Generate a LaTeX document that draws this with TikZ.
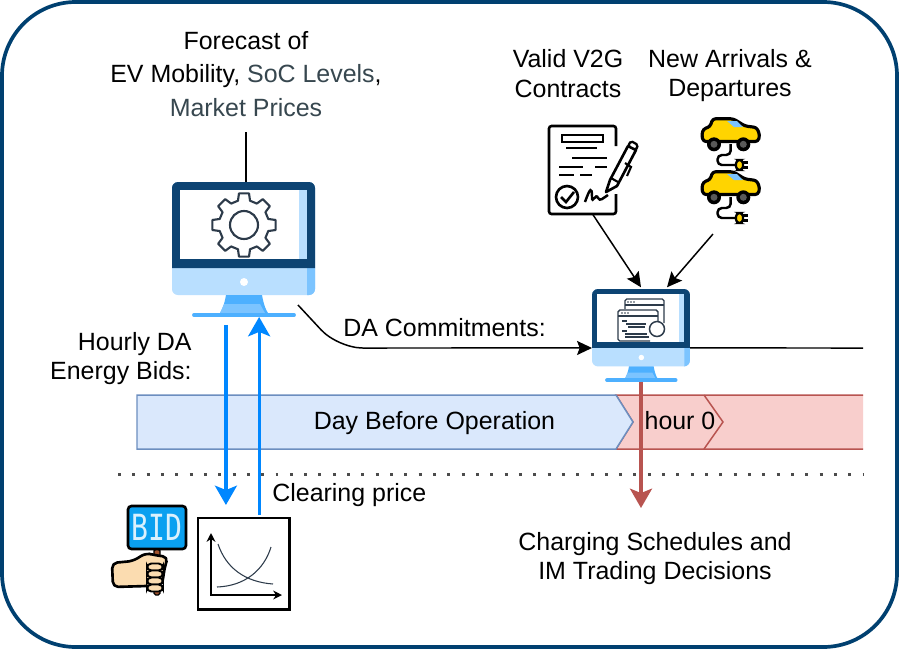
\documentclass[tikz,border=0pt]{standalone}
\usepackage{fontspec}
\setmainfont{Liberation Sans}
\newfontfamily\monofont{DejaVu Sans Mono}
\usetikzlibrary{arrows.meta,positioning,calc}

\definecolor{frameblue}{HTML}{004070}
\definecolor{screendark}{HTML}{0D4473}
\definecolor{screenlight}{HTML}{B9DFFF}
\definecolor{screenmid}{HTML}{7CC4FF}
\definecolor{standblue}{HTML}{4DB0FF}
\definecolor{iconink}{HTML}{2D3B4A}
\definecolor{slatetext}{HTML}{37474F}
\definecolor{bidblue}{HTML}{0087FF}
\definecolor{signblue}{HTML}{0AA0F0}
\definecolor{dayblue}{HTML}{DAE8FC}
\definecolor{dayline}{HTML}{6C8EBF}
\definecolor{hourred}{HTML}{F8CECC}
\definecolor{hourline}{HTML}{B85450}
\definecolor{caryellow}{HTML}{FFD400}
\definecolor{skinTone}{HTML}{FBDCB0}
\definecolor{stickbrown}{HTML}{A0522D}

\tikzset{
	label/.style={font=\fontsize{14.2}{17}\selectfont, align=center, inner sep=0pt},
	iconbox/.style={inner sep=0pt, outer sep=0pt},
	wire/.style={black, line width=0.85pt},
	wirearrow/.style={wire, -{Stealth[length=8.5pt,width=8pt,inset=1.5pt]}},
	bigtip/.style={-{Stealth[length=11pt,width=12.5pt,inset=2.5pt]}},
	bidarrow/.style={bidblue, line width=1.8pt, bigtip},
	monitor/.pic={
		\fill[screenlight, rounded corners=3.4pt] (0,0) rectangle (143,113);
		\fill[screenmid] (135,86) -- (143,86) [rounded corners=3.4pt] -- (143,113) [sharp corners] -- (135,113) -- cycle;
		\fill[screendark] (0,86) [rounded corners=3.4pt] -- (0,0) -- (143,0) [sharp corners] -- (143,86) -- cycle;
		\fill[white] (8,8) rectangle (135,77);
		\fill[screenlight] (127,8) rectangle (135,77);
		\fill[white] (72,100) circle (4);
		\fill[standblue] (54,113) -- (90,113) .. controls (92,124) and (94,128) .. (96,131) -- (48,131) .. controls (50,128) and (52,124) .. (54,113) -- cycle;
		\fill[screenmid] (52,122) -- (88,122) -- (93,131) -- (48,131) -- cycle;
		\draw[standblue, line width=2.2pt, line cap=round] (22,133) -- (122,133);
	},
	evcar/.pic={
		% cable and plug
		\draw[black, line width=1.4pt, rounded corners=2.5pt] (29.7,26) -- (29.7,37) -- (16.5,37) -- (16.5,47) -- (36,47);
		\draw[black, line width=1.2pt] (40,44.5) -- (47,44.5) (40,49.5) -- (47,49.5);
		\draw[black, fill=caryellow, line width=1.3pt, rounded corners=2pt] (35,42) rectangle (42,52);
		% body
		\draw[black, fill=caryellow, line width=1.8pt, line join=round, rounded corners=1.6pt] (2.3,23.5) -- (0.7,17) -- (2.3,11) -- (9,8.7) -- (11.7,0.8) -- (32.3,0.8) -- (44,8) -- (55.7,9.5) -- (58.8,17) -- (57,23.5) -- cycle;
		\fill[screenmid] (26,3) -- (36,3) -- (42,9) -- (33,9) -- cycle;
		\fill[black] (13,26.3) circle (7) (42.3,26.3) circle (7);
		\fill[black!65] (13,26.3) circle (3.5) (42.3,26.3) circle (3.5);
	}
}

\begin{document}
\begin{tikzpicture}[x=0.02cm, y=-0.02cm]
	\useasboundingbox (0,0) rectangle (900,650);
	\fill[white] (0,0) rectangle (900,650);
	% Frame
	\draw[frameblue, line width=2.1pt, rounded corners=42pt] (2,2) rectangle (897,647);

	% Timeline
	\draw[hourline, fill=hourred, line width=0.85pt] (863,395) -- (616,395) -- (633,422) -- (616,449) -- (863,449);
	\draw[hourline, line width=0.85pt] (704,395) -- (723,422) -- (704,449);
	\draw[dayline, fill=dayblue, line width=0.85pt] (137,395) -- (616,395) -- (633,422) -- (616,449) -- (137,449) -- cycle;
	\node[label] (dayText) at (434.5,423.5) {Day Before Operation};
	\node[label] (hourText) at (680,421) {hour 0};
	\draw[black!70, line width=1.7pt, dash pattern=on 1.7pt off 6.45pt] (118,474) -- (863,474);

	% Main computer
	\node[iconbox, minimum width=81.4pt, minimum height=76.8pt] (mainPC) at (243.5,249.5) {};
	\pic at (172,182) {monitor};
	\draw[iconink, line width=1.2pt, line join=round] ($(244,225)+(-14:25)$) \foreach \a in {0,45,...,315} {
			-- ($(244,225)+({\a-14}:25)$) -- ($(244,225)+({\a-9}:32)$) -- ($(244,225)+({\a+9}:32)$) -- ($(244,225)+({\a+14}:25)$)
		} -- cycle;
	\draw[iconink, line width=1.2pt] (244,225) circle (14);

	% Small computer
	\node[iconbox, minimum width=55.8pt, minimum height=52.9pt] (smallPC) at (641,335.5) {};
	\pic[scale=0.685] at (592,289) {monitor};
	\draw[iconink, line width=0.75pt, rounded corners=1pt] (625,309) -- (625,299) -- (664,299) -- (664,323);
	\draw[iconink, line width=0.6pt] (625,305) -- (664,305);
	\draw[iconink, line width=0.8pt, rounded corners=1pt] (650,341) -- (618,341) -- (618,310) -- (658,310) -- (658,321);
	\draw[iconink, line width=0.6pt] (618,316) -- (658,316);
	\draw[iconink, line width=0.85pt, fill=white] (657,329) circle (7.5);
	\foreach \dotx in {628,631,634}
		\fill[iconink] (\dotx,302) circle (0.8) (\dotx-6,313) circle (0.8);
	\foreach \ly/\la/\lb in {321/622/627, 324/626/646, 327/628/645, 331/622/627, 334/625/647, 337/625/649}
		\draw[iconink, line width=0.75pt] (\la,\ly) -- (\lb,\ly);

	% Contract icon
	\node[iconbox, minimum width=38pt, minimum height=50pt] (contractIcon) at (582.5,170) {};
	\draw[black, line width=1.5pt, rounded corners=1.5pt] (616,146) -- (616,126) -- (549,126) -- (549,214) -- (616,214) -- (616,194);
	\draw[black, line width=1.2pt] (562,135) rectangle (603,142);
	\draw[black, line width=1.3pt] (566,148) -- (597,148) (572,158) -- (607,158) (559,167) -- (583,167) (595,167) -- (607,167) (559,175) -- (574,175) (580,175) -- (592,175);
	\draw[black, line width=1.5pt] (567,197) circle (11);
	\draw[black, line width=1.5pt] (561,197) -- (566,202) -- (574,192);
	\draw[black, line width=1.4pt] (585,202) .. controls (590,188) and (592,186) .. (592,197) .. controls (592,205) and (596,192) .. (598,198) .. controls (600,202) and (603,198) .. (608,195);
	\draw[black, fill=white, line width=1.5pt, line join=round] (606,192) -- (610,180) -- (628,146) -- (636,150) -- (617,186) -- cycle;
	\draw[black, fill=white, line width=1.3pt, rounded corners=1pt] (628,146) -- (631,141) -- (638,145) -- (636,150) -- cycle;
	\draw[black, line width=1.2pt] (611,178) -- (618,182) (625,163) -- (631,167) -- (627,176);

	% EV icons
	\node[iconbox, minimum width=33.6pt, minimum height=60.3pt] (carsIcon) at (730,170) {};
	\pic at (701,118) {evcar};
	\pic at (701,171) {evcar};

	% Bid sign
	\node[iconbox, minimum width=33.6pt, minimum height=25pt] (bidSign) at (157,527.5) {};
	\draw[black, fill=stickbrown, line width=0.8pt, rounded corners=1pt] (154,549) -- (160,549) -- (160,595) -- (154,595) -- cycle;
	\draw[black, fill=skinTone, line width=1.5pt, line join=round, rounded corners=3pt] (154,555) -- (168,557) -- (165,566) -- (162,585) -- (147,586) -- (113,587) -- (112,563) -- (133,561) -- (146,553) -- cycle;
	\foreach \fy in {567,574,581,588}
		\draw[black, fill=skinTone, line width=1.1pt, rounded corners=2.5pt] (147,\fy-3.5) rectangle (163,\fy+3.5);
	\node[iconbox, draw=black, fill=signblue, line width=1.5pt, rounded corners=2pt, minimum width=33pt, minimum height=24.5pt] (bidPanel) at (157,527.5) {};
	\node[iconbox, text=white!85!signblue, font=\monofont\fontsize{20.5}{20.5}\selectfont, transform shape, xscale=0.78] (bidText) at (bidPanel) {BID};

	% Chart
	\node[iconbox, draw=black, line width=1.7pt, minimum size=51.8pt] (chartBox) at (243.5,563.5) {};
	\draw[black, line width=0.85pt, {Stealth[length=5pt,width=5pt]}-{Stealth[length=5pt,width=5pt]}] (211,533) -- (211,595) -- (282,595);
	\draw[iconink, line width=0.6pt] (218,544) .. controls (226,568) and (245,582) .. (273,584);
	\draw[iconink, line width=0.6pt] (217,587) .. controls (245,586) and (264,570) .. (271,547);

	% Text labels
	\node[label] (forecastText) at (246,74) {Forecast of\\[2.3pt]EV Mobility, {\color{slatetext}SoC Levels}{,}\\[2.3pt]{\color{slatetext}Market Prices}};
	\node[label] (contractText) at (568,73.5) {Valid V2G\\Contracts};
	\node[label] (arrivalText) at (730,75.5) {New Arrivals \&\\Departures};
	\node[label, align=right, anchor=east] (bidsText) at (192,358.5) {Hourly DA\\Energy Bids:};
	\node[label, anchor=west] (commitText) at (343,328) {DA Commitments:};
	\node[label, anchor=west] (clearText) at (272,495) {Clearing price};
	\node[label] (decisionText) at (655,558.5) {Charging Schedules and\\IM Trading Decisions};

	% Connectors
	\coordinate (forecastEnd) at (246,132);
	\coordinate (commitStart) at (298,305);
	\coordinate (dayEnd) at (863,348);
	\coordinate (decisionEnd) at (641,508);
	\draw[wire] (forecastEnd) -- (forecastEnd |- mainPC.north);
	\draw[wirearrow, rounded corners=14pt] (commitStart) -- (338,348) -- ([yshift=-7.1pt]smallPC.west);
	\draw[wire] ([yshift=-7.1pt]smallPC.east) -- (dayEnd);
	\draw[wirearrow] ([xshift=6pt,yshift=-0.5pt]contractIcon.south) -- ([yshift=1pt]smallPC.north);
	\draw[wirearrow] ([xshift=-9.7pt,yshift=-6.3pt]carsIcon.south) -- ([xshift=14.8pt,yshift=1pt]smallPC.north);
	\draw[bidarrow] ([xshift=-10pt,yshift=-4.5pt]mainPC.south) -- ([xshift=-10pt,yshift=7.4pt]chartBox.north);
	\draw[bidarrow] ([xshift=8.9pt,yshift=1.7pt]chartBox.north) -- ([xshift=8.9pt]mainPC.south);
	\draw[hourline, line width=1.9pt, bigtip] (smallPC.south) -- (decisionEnd);
\end{tikzpicture}
\end{document}
